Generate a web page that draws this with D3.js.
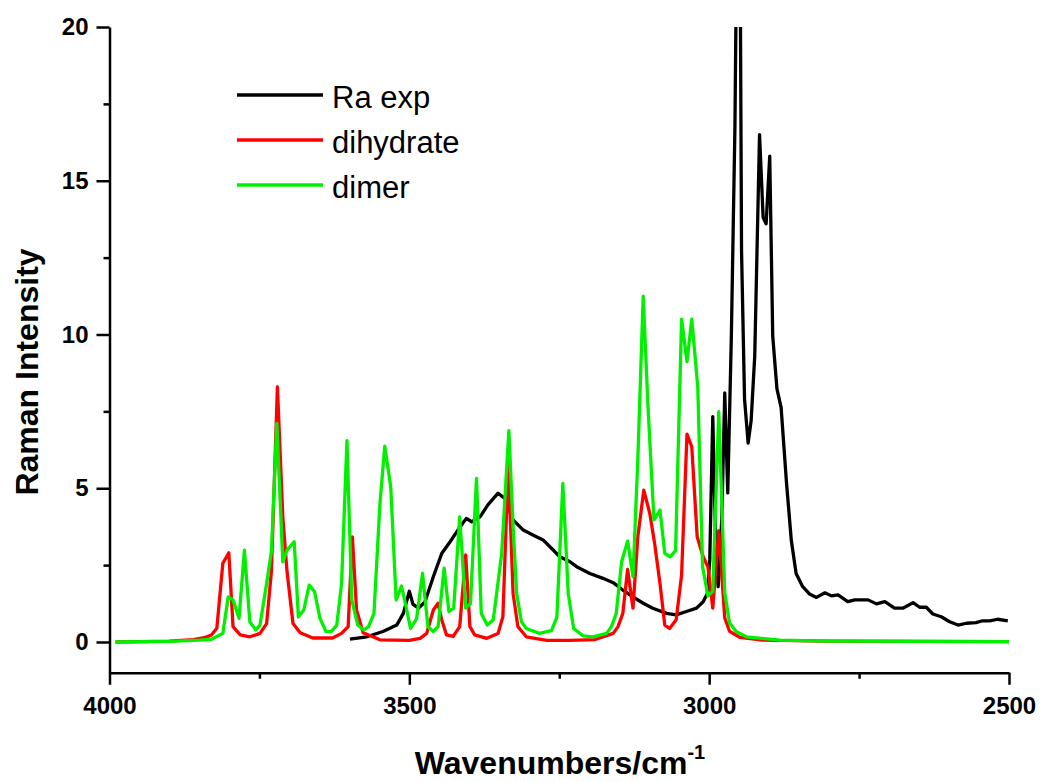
<!DOCTYPE html>
<html>
<head>
<meta charset="utf-8">
<script src="https://cdn.jsdelivr.net/npm/d3@7"></script>
<style>
  body { margin: 0; background: #fff; }
  svg { display: block; font-family: Arial, "Liberation Sans", sans-serif; }
  .axis path, .axis line { stroke: #000; stroke-width: 2.5px; }
  .axis text { font-size: 24px; font-weight: bold; fill: #000; }
  .series { fill: none; stroke-linejoin: round; }
</style>
</head>
<body>
<svg width="1041" height="782"></svg>
<script>
// wavenumber (cm-1), intensity
const raExp = [
  [3599,0.09],[3571,0.17],[3544,0.34],[3521,0.55],[3510,0.93],[3500,1.65],[3494,1.23],[3485,1.1],
  [3474,1.3],[3460,2.12],[3446,2.88],[3432,3.26],[3419,3.64],[3405,4.02],[3396,3.91],[3382,4.07],
  [3369,4.46],[3352,4.84],[3341,4.67],[3327,3.97],[3310,3.64],[3294,3.48],[3277,3.32],[3263,3.05],
  [3249,2.77],[3232,2.61],[3221,2.45],[3199,2.23],[3177,2.07],[3160,1.93],[3144,1.69],[3127,1.47],
  [3110,1.26],[3094,1.1],[3071,0.93],[3055,0.88],[3038,0.99],[3021,1.1],[3010,1.31],[3003,1.58],
  [2999,2.67],[2994,7.33],[2989,3.2],[2985,1.8],[2979,4.0],[2974,8.1],[2969,4.85],[2963,9.95],
  [2957,16.8],[2955,21],[2951,24],[2948,21],[2946,12.7],[2941,7.9],[2935,6.47],[2930,7.2],
  [2924,9.3],[2916,16.5],[2910,13.8],[2905,13.6],[2899,15.8],[2894,9.95],[2887,8.24],[2880,7.62],
  [2871,5.17],[2863,3.3],[2855,2.23],[2844,1.8],[2832,1.55],[2821,1.45],[2807,1.6],[2796,1.5],
  [2785,1.53],[2769,1.31],[2757,1.37],[2735,1.37],[2721,1.24],[2707,1.31],[2691,1.1],[2677,1.1],
  [2660,1.28],[2649,1.13],[2638,1.13],[2627,0.91],[2613,0.82],[2599,0.66],[2585,0.55],[2571,0.61],
  [2555,0.63],[2544,0.69],[2532,0.69],[2519,0.74],[2502,0.69]
];

const dihydrate = [
  [3990,0.0],[3950,0.01],[3900,0.03],[3860,0.08],[3840,0.15],[3830,0.23],[3821,0.45],[3811,2.56],
  [3801,2.9],[3794,0.5],[3782,0.23],[3766,0.17],[3749,0.28],[3738,0.6],[3730,2.3],[3720,8.3],
  [3711,4.07],[3704,2.3],[3694,0.6],[3682,0.3],[3661,0.13],[3628,0.13],[3613,0.28],[3602,0.5],
  [3595,3.42],[3588,1.04],[3577,0.3],[3549,0.07],[3500,0.05],[3482,0.12],[3471,0.28],[3460,1.04],
  [3452,1.26],[3446,0.72],[3438,0.23],[3427,0.18],[3416,0.5],[3406,2.83],[3399,0.5],[3391,0.23],
  [3371,0.12],[3352,0.28],[3344,0.82],[3335,5.81],[3327,1.58],[3319,0.5],[3305,0.17],[3271,0.05],
  [3232,0.05],[3190,0.08],[3160,0.28],[3152,0.5],[3144,0.93],[3136,2.36],[3127,1.1],[3119,3.42],
  [3109,4.94],[3099,4.18],[3091,3.21],[3082,1.9],[3074,0.55],[3066,0.44],[3055,0.72],[3046,2.18],
  [3037,6.76],[3029,6.35],[3020,3.42],[3010,2.77],[3002,2.44],[2994,1.1],[2984,3.62],[2974,0.78],
  [2966,0.35],[2949,0.15],[2911,0.06],[2800,0.03],[2500,0.01]
];

const dimer = [
  [3990,0.0],[3900,0.02],[3850,0.06],[3830,0.09],[3811,0.28],[3802,1.47],[3794,1.37],[3784,0.77],
  [3775,2.99],[3766,0.66],[3756,0.39],[3749,0.55],[3738,1.9],[3730,2.94],[3721,7.11],[3711,2.61],
  [3704,2.99],[3692,3.26],[3685,0.82],[3676,1.04],[3667,1.85],[3658,1.64],[3649,0.77],[3639,0.34],
  [3630,0.34],[3621,0.55],[3613,1.9],[3604,6.55],[3596,1.37],[3586,0.55],[3576,0.39],[3568,0.5],
  [3559,0.93],[3549,4.5],[3541,6.37],[3531,5.05],[3522,1.37],[3513,1.82],[3506,1.2],[3498,0.44],
  [3488,0.75],[3478,2.23],[3469,0.5],[3460,0.34],[3452,0.5],[3442,2.4],[3434,0.99],[3426,1.1],
  [3416,4.07],[3406,1.1],[3398,1.25],[3388,5.32],[3380,0.93],[3370,0.55],[3360,0.72],[3346,2.88],
  [3334,6.87],[3327,3.75],[3321,1.58],[3313,0.66],[3305,0.44],[3283,0.28],[3263,0.37],[3254,0.8],
  [3244,5.16],[3235,1.58],[3226,0.44],[3210,0.2],[3194,0.17],[3171,0.28],[3163,0.5],[3155,0.93],
  [3146,2.61],[3136,3.28],[3127,2.12],[3119,5.92],[3110,11.25],[3102,7.65],[3092,3.97],[3082,4.29],
  [3074,2.88],[3065,2.77],[3056,2.97],[3046,10.5],[3037,9.12],[3029,10.5],[3019,8.3],[3011,2.45],
  [3002,1.5],[2994,1.64],[2984,7.49],[2974,1.6],[2966,0.62],[2955,0.34],[2938,0.17],[2882,0.06],
  [2800,0.03],[2500,0.01]
];

const series = [
  { name: "Ra exp", data: raExp, color: "#000000" },
  { name: "dihydrate", data: dihydrate, color: "#ff0000" },
  { name: "dimer", data: dimer, color: "#00f000" }
];

const xMajor = [4000, 3500, 3000, 2500];
const xMinor = [3750, 3250, 2750];
const yMajor = [0, 5, 10, 15, 20];
const yMinor = [2.5, 7.5, 12.5, 17.5];

const svg = d3.select("svg");

const x = d3.scaleLinear().domain([4000, 2500]).range([109.5, 1009]);
const y = d3.scaleLinear().domain([-1, 20]).range([672.75, 27]);

svg.append("defs").append("clipPath")
    .attr("id", "plot-clip")
  .append("rect")
    .attr("x", x(4000)).attr("y", y(20))
    .attr("width", x(2500) - x(4000))
    .attr("height", y(-1) - y(20));

// lines
const line = d3.line()
    .x(d => x(d[0]))
    .y(d => y(d[1]));

svg.append("g")
    .attr("clip-path", "url(#plot-clip)")
  .selectAll("path")
  .data(series)
  .enter().append("path")
    .attr("class", "series")
    .attr("stroke", d => d.color)
    .attr("stroke-width", 3.3)
    .attr("d", d => line(d.data));

// x axis
svg.append("g")
    .attr("class", "axis")
    .attr("transform", `translate(0,${y(-1)})`)
    .call(d3.axisBottom(x).tickValues(xMinor).tickSize(6).tickFormat(""))
    .call(g => g.select(".domain").remove());

svg.append("g")
    .attr("class", "axis")
    .attr("transform", `translate(0,${y(-1)})`)
    .call(d3.axisBottom(x).tickValues(xMajor).tickSize(12).tickSizeOuter(0).tickPadding(12).tickFormat(d3.format("d")));

// y axis
svg.append("g")
    .attr("class", "axis")
    .attr("transform", `translate(${x(4000)},0)`)
    .call(d3.axisLeft(y).tickValues(yMinor).tickSize(6).tickFormat(""))
    .call(g => g.select(".domain").remove());

svg.append("g")
    .attr("class", "axis")
    .attr("transform", `translate(${x(4000)},0)`)
    .call(d3.axisLeft(y).tickValues(yMajor).tickSize(13).tickSizeOuter(0).tickPadding(8).tickFormat(d3.format("d")));

// axis titles
svg.append("text")
    .attr("transform", "translate(38,372) rotate(-90)")
    .attr("text-anchor", "middle")
    .style("font-size", "32px")
    .style("font-weight", "bold")
    .text("Raman Intensity");

const xt = svg.append("text")
    .attr("x", 560)
    .attr("y", 774)
    .attr("text-anchor", "middle")
    .style("font-size", "32px")
    .style("font-weight", "bold");
xt.append("tspan").text("Wavenumbers/cm");
xt.append("tspan").attr("dy", -15).style("font-size", "20px").text("-1");

// legend
const legend = svg.append("g")
    .selectAll("g")
    .data(series)
    .enter().append("g")
    .attr("transform", (d, i) => `translate(237,${95 + i * 45})`);

legend.append("line")
    .attr("x1", 0).attr("x2", 86)
    .attr("stroke", d => d.color)
    .attr("stroke-width", 3.3);

legend.append("text")
    .attr("x", 95)
    .attr("y", 13)
    .style("font-size", "31px")
    .text(d => d.name);
</script>
</body>
</html>
